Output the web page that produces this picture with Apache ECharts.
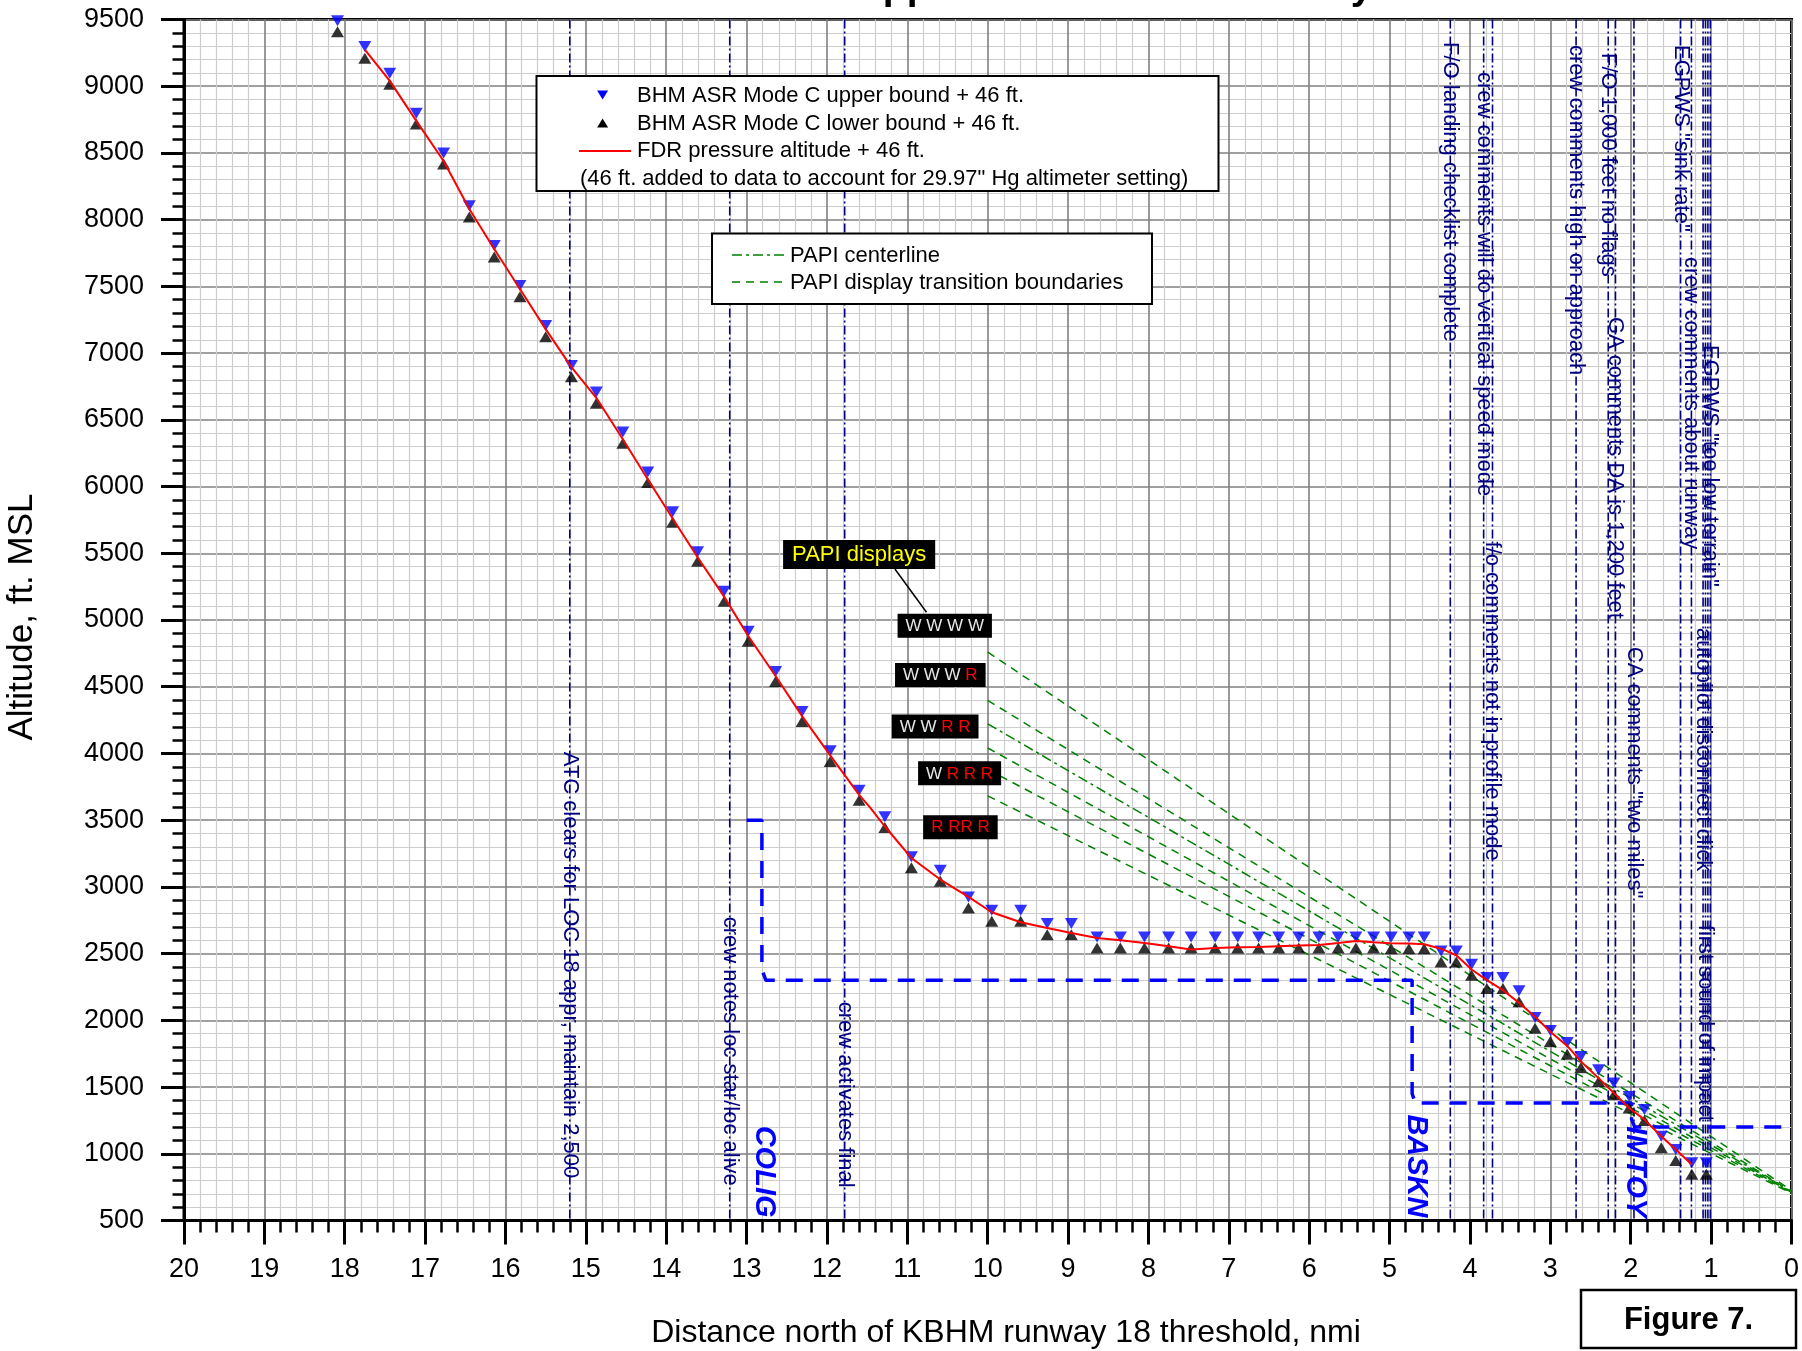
<!DOCTYPE html>
<html><head><meta charset="utf-8">
<script src="https://cdn.jsdelivr.net/npm/echarts@6/dist/echarts.min.js"></script>
<style>html,body{margin:0;padding:0;background:#fff}#c{width:1802px;height:1351px}</style>
</head><body><div id="c"></div>
<script>
const FONT = '"Liberation Sans", Arial, Helvetica, sans-serif';

// ---------------- DATA ----------------
const X_MIN = 0, X_MAX = 20, Y_MIN = 500, Y_MAX = 9500;

// BHM ASR Mode C returns (distance nmi) with upper / lower bound + 46 ft
const asrX = [18.09,17.75,17.44,17.11,16.77,16.45,16.14,15.82,15.50,15.18,14.87,14.54,14.23,13.92,13.61,13.28,12.98,12.64,12.31,11.96,11.60,11.28,10.95,10.59,10.24,9.95,9.59,9.26,8.96,8.64,8.35,8.05,7.75,7.47,7.17,6.89,6.63,6.38,6.13,5.88,5.64,5.42,5.20,4.98,4.76,4.57,4.36,4.17,3.98,3.79,3.59,3.39,3.19,3.00,2.79,2.62,2.40,2.21,2.02,1.83,1.62,1.44,1.24,1.06];
const asrUpper = [9491,9297,9097,8798,8499,8105,7806,7506,7207,6908,6708,6409,6110,5812,5512,5215,4915,4615,4315,4020,3725,3525,3225,3125,2925,2825,2825,2725,2725,2625,2625,2625,2625,2625,2625,2625,2625,2625,2625,2625,2625,2625,2625,2624,2624,2624,2520,2520,2420,2321,2321,2221,2022,1923,1833,1729,1629,1530,1430,1331,1132,1032,933,933];
const asrLower = [9409,9210,9015,8716,8417,8020,7721,7422,7123,6823,6624,6324,6030,5733,5440,5140,4840,4540,4240,3940,3650,3445,3143,3042,2842,2742,2742,2642,2642,2542,2542,2542,2542,2542,2542,2542,2542,2542,2542,2542,2542,2542,2542,2537,2537,2537,2438,2438,2338,2239,2239,2139,1940,1841,1746,1647,1542,1443,1343,1249,1045,950,846,846];

// FDR pressure altitude + 46 ft
const fdrX = [17.75,17.44,17.11,16.77,16.45,16.14,15.82,15.50,15.18,14.87,14.54,14.23,13.92,13.61,13.28,12.98,12.64,12.31,11.96,11.60,11.46,11.29,10.95,10.59,10.24,9.95,9.59,9.26,8.96,8.64,8.35,8.05,7.75,7.47,7.17,6.89,6.63,6.38,6.13,5.88,5.64,5.42,5.20,5.00,4.76,4.57,4.36,4.17,3.98,3.79,3.59,3.38,3.19,3.00,2.79,2.62,2.40,2.21,2.02,1.83,1.62,1.44,1.24];
const fdrAlt = [9275,9040,8740,8440,8080,7780,7480,7180,6895,6665,6355,6055,5760,5470,5175,4880,4580,4280,3985,3690,3592,3460,3217,3055,2925,2810,2735,2692,2655,2617,2600,2580,2555,2530,2542,2547,2550,2555,2560,2565,2580,2595,2585,2578,2575,2570,2537,2488,2381,2301,2226,2127,2027,1915,1808,1692,1567,1455,1343,1256,1132,1032,920];

// Step-down minimum altitude profile
const stepX = [13.00,12.81,12.81,12.76,4.72,4.72,4.68,1.99,1.99,1.95,0.00];
const stepAlt = [3500,3500,2380,2300,2300,1450,1380,1380,1260,1200,1200];

// PAPI lines (from 10 nmi to threshold)
const papiFromX = 10, papiToX = 0;
const papiFromAlt = [4759,4397,4222,4041,3880,3682];
const papiToAlt   = [725,718,715,712,708,704];
const papiIsCenter = [false,false,true,false,false,false];

// Event annotations
const eventX = [15.20,13.21,11.78,4.245,3.83,3.72,2.68,2.28,2.19,1.96,1.38,1.245,1.10,1.07,1.04,1.01];
const eventTop = [4012,2776,2139,9331,9107,5588,9309,9249,7271,4799,9309,7721,4941,2716,null,7061];
const eventText = [
  'ATC clears for LOC 18 appr, maintain 2,500',
  'crew notes loc star/loc alive',
  'crew activates final',
  'F/O landing checklist complete',
  'crew comments will do vertical speed mode',
  'f/o comments not in profile mode',
  'crew comments high on approach',
  'F/O 1,000 feet no flags',
  'GA comments DA is 1,200 feet',
  'CA comments "two miles"',
  'EGPWS "sink rate"',
  'crew comments about runway',
  'autopilot disconnect click',
  'first sound of impact',
  '',
  'EGPWS "too low terrain"'
];

// Fix names
const fixName = ['COLIG','BASKN','IMTOY'];
const fixX = [12.79,4.67,1.95];

// PAPI display boxes
const papiDispText = ['{w|W W W W}','{w|W W W} {r|R}','{w|W W} {r|R R}','{w|W} {r|R R R}','{r|R RR R}'];
const papiDispX = [10.535,10.59,10.655,10.35,10.34];
const papiDispAlt = [4956,4587,4201,3851,3447];
const papiLabelX = 11.60, papiLabelAlt = 5491;
const leaderX = [11.155,10.762], leaderAlt = [5382,5058];

// ---------------- CHART ----------------
const chart = echarts.init(document.getElementById('c'));
const navy = '#000080';

const series = [];

// PAPI lines
papiFromAlt.forEach((a,i)=>{
  series.push({type:'line', silent:true, z:2, symbol:'none', animation:false,
    data:[[papiFromX,a],[papiToX,papiToAlt[i]]],
    lineStyle:{color:'#008000', width:1.5, type: papiIsCenter[i] ? [10,4,3,4] : [8,6]}});
});

// event vertical lines
series.push({type:'custom', silent:true, z:3, animation:false,
  data: eventX.map((x,i)=>[x,i]),
  renderItem(params, api){
    const x = api.value(0);
    const a = api.coord([x, Y_MAX]), b = api.coord([x, Y_MIN]);
    return {type:'line', shape:{x1:a[0],y1:a[1],x2:b[0],y2:b[1]},
      style:{stroke:navy, lineWidth:1.6, lineDash:[9,3,2,3]}};
  }});

// step-down profile
series.push({type:'line', silent:true, z:4, symbol:'none', animation:false,
  data: stepX.map((x,i)=>[x,stepAlt[i]]),
  lineStyle:{color:'#0000FF', width:3.5, type:[17,11]}});

// event texts
series.push({type:'custom', silent:true, z:5, animation:false,
  data: eventX.map((x,i)=>[x, eventTop[i]==null?Y_MIN:eventTop[i], i]),
  renderItem(params, api){
    const i = api.value(2);
    if (!eventText[i]) return null;
    const p = api.coord([api.value(0), api.value(1)]);
    return {type:'text', x:p[0], y:p[1], rotation:-Math.PI/2,
      style:{text:eventText[i], x:0, y:0, align:'left', verticalAlign:'middle',
        font:'22px '+FONT, fill:navy}};
  }});

// fix names
series.push({type:'custom', silent:true, z:5, animation:false,
  data: fixX.map((x,i)=>[x, Y_MIN, i]),
  renderItem(params, api){
    const i = api.value(2);
    const p = api.coord([api.value(0), api.value(1)]);
    return {type:'text', x:p[0], y:p[1]-3, rotation:-Math.PI/2,
      style:{text:fixName[i], x:0, y:0, align:'right', verticalAlign:'middle',
        font:'italic bold 29px '+FONT, fill:'#0000FF'}};
  }});

// ASR markers
series.push({type:'scatter', name:'upper', z:6, animation:false,
  data: asrX.map((x,i)=>[x,asrUpper[i]]),
  symbol:'triangle', symbolRotate:180, symbolSize:[13,11], itemStyle:{color:'#0000FF'}});
series.push({type:'scatter', name:'lower', z:6, animation:false,
  data: asrX.map((x,i)=>[x,asrLower[i]]),
  symbol:'triangle', symbolSize:[13,11], itemStyle:{color:'#000000'}});

// FDR line
series.push({type:'line', name:'fdr', z:7, symbol:'none', animation:false,
  data: fdrX.map((x,i)=>[x,fdrAlt[i]]),
  lineStyle:{color:'#FF0000', width:2}});

// leader line
series.push({type:'line', silent:true, z:8, symbol:'none', animation:false,
  data: leaderX.map((x,i)=>[x,leaderAlt[i]]),
  lineStyle:{color:'#000', width:1.5}});

// PAPI display boxes
series.push({type:'custom', silent:true, z:9, animation:false,
  data: papiDispX.map((x,i)=>[x,papiDispAlt[i],i]),
  renderItem(params, api){
    const i = api.value(2);
    const p = api.coord([api.value(0), api.value(1)]);
    return {type:'text', x:p[0], y:p[1],
      style:{text:papiDispText[i], x:0, y:0, align:'center', verticalAlign:'middle',
        font:'17px '+FONT, backgroundColor:'#000', padding:[4,8,3,8],
        rich:{w:{fill:'#e6e6e6', font:'17px '+FONT}, r:{fill:'#ff0000', font:'17px '+FONT}}}};
  }});
series.push({type:'custom', silent:true, z:9, animation:false,
  data: [[papiLabelX,papiLabelAlt]],
  renderItem(params, api){
    const p = api.coord([api.value(0), api.value(1)]);
    return {type:'text', x:p[0], y:p[1],
      style:{text:'PAPI displays', x:0, y:0, align:'center', verticalAlign:'middle',
        font:'22px '+FONT, fill:'#FFFF00', backgroundColor:'#000', padding:[4,9,3,9]}};
  }});

const tri = (cx,cy,down)=> down ? [[cx-5.5,cy-4.5],[cx+5.5,cy-4.5],[cx,cy+4.5]] : [[cx-5.5,cy+4.5],[cx+5.5,cy+4.5],[cx,cy-4.5]];
const lblStyle = (t,x,y,extra)=>Object.assign({type:'text', x, y, style:{text:t, font:'22px '+FONT, fill:'#000', verticalAlign:'middle'}}, extra||{});

const graphic = [
  // title (clipped at top in the original)
  {type:'text', x:508, y:8, z:20, style:{text:'Altitude Profile on Approach to KBHM Runway 18', font:'bold 39px '+FONT, fill:'#000', verticalAlign:'bottom', align:'left'}},
  // legend 1
  {type:'rect', z:20, shape:{x:536.5, y:76, width:682, height:115}, style:{fill:'#fff', stroke:'#000', lineWidth:2}},
  {type:'polygon', z:21, shape:{points:tri(602.6,95,true)}, style:{fill:'#0000FF'}},
  {type:'polygon', z:21, shape:{points:tri(602.6,123,false)}, style:{fill:'#000'}},
  {type:'line', z:21, shape:{x1:579, y1:151, x2:631, y2:151}, style:{stroke:'#FF0000', lineWidth:2}},
  lblStyle('BHM ASR Mode C upper bound + 46 ft.', 637, 96, {z:21}),
  lblStyle('BHM ASR Mode C lower bound + 46 ft.', 637, 124, {z:21}),
  lblStyle('FDR pressure altitude + 46 ft.', 637, 151, {z:21}),
  lblStyle('(46 ft. added to data to account for 29.97" Hg altimeter setting)', 580, 179, {z:21}),
  // legend 2
  {type:'rect', z:20, shape:{x:712, y:233.5, width:440, height:70.5}, style:{fill:'#fff', stroke:'#000', lineWidth:2}},
  {type:'line', z:21, shape:{x1:732, y1:255, x2:784, y2:255}, style:{stroke:'#008000', lineWidth:1.5, lineDash:[10,4,3,4]}},
  {type:'line', z:21, shape:{x1:732, y1:282, x2:784, y2:282}, style:{stroke:'#008000', lineWidth:1.5, lineDash:[8,6]}},
  lblStyle('PAPI centerline', 790, 256, {z:21}),
  lblStyle('PAPI display transition boundaries', 790, 283, {z:21}),
  // axis titles
  {type:'text', x:22, y:617, rotation:Math.PI/2, z:20, style:{text:'Altitude, ft. MSL', font:'35px '+FONT, fill:'#000', align:'center', verticalAlign:'middle'}},
  {type:'text', x:1006, y:1333, z:20, style:{text:'Distance north of KBHM runway 18 threshold, nmi', font:'32px '+FONT, fill:'#000', align:'center', verticalAlign:'middle'}},
  // figure box
  {type:'rect', z:20, shape:{x:1581, y:1290, width:215, height:58}, style:{fill:'#fff', stroke:'#000', lineWidth:2.5}},
  {type:'text', x:1688.5, y:1320, z:21, style:{text:'Figure 7.', font:'bold 31px '+FONT, fill:'#000', align:'center', verticalAlign:'middle'}}
];

const option = {
  animation:false,
  backgroundColor:'#fff',
  grid:{left:184, right:10, top:19.5, bottom:130.5, show:true, borderColor:'#000', borderWidth:3, backgroundColor:'#fff'},
  xAxis:{type:'value', min:X_MIN, max:X_MAX, interval:1, inverse:true,
    axisLine:{show:true, onZero:false, lineStyle:{color:'#000', width:3}},
    axisTick:{show:true, inside:false, length:24, lineStyle:{color:'#000', width:3}},
    minorTick:{show:true, splitNumber:5, length:12, lineStyle:{color:'#000', width:2.5}},
    axisLabel:{margin:36, fontSize:27, fontFamily:FONT, color:'#000', formatter:v=>String(v)},
    splitLine:{show:true, lineStyle:{color:'#808080', width:1.6}},
    minorSplitLine:{show:true, lineStyle:{color:'#cdcdcd', width:1.2}}},
  yAxis:{type:'value', min:Y_MIN, max:Y_MAX, interval:500,
    axisLine:{show:true, onZero:false, lineStyle:{color:'#000', width:3}},
    axisTick:{show:true, inside:false, length:23, lineStyle:{color:'#000', width:3}},
    minorTick:{show:true, splitNumber:5, length:11.5, lineStyle:{color:'#000', width:2.5}},
    axisLabel:{margin:40, fontSize:27, fontFamily:FONT, color:'#000', formatter:v=>String(v)},
    splitLine:{show:true, lineStyle:{color:'#808080', width:1.6}},
    minorSplitLine:{show:true, lineStyle:{color:'#cdcdcd', width:1.2}}},
  series,
  graphic
};
chart.setOption(option);
</script></body></html>
